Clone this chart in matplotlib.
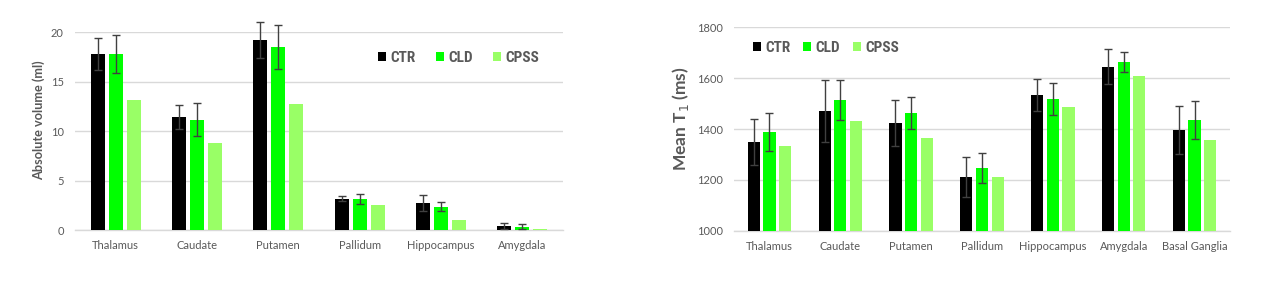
import matplotlib
matplotlib.use("Agg")
import matplotlib.pyplot as plt
import numpy as np
from matplotlib.patches import Patch
from matplotlib import font_manager

names = {f.name for f in font_manager.fontManager.ttflist}
condensed = [n for n in ['Roboto Condensed', 'Open Sans Condensed', 'Liberation Sans Narrow',
                         'Noto Sans Condensed', 'DejaVu Sans Condensed'] if n in names]
LEG_FAM = [condensed[0], 'DejaVu Sans'] if condensed else ['Lato', 'DejaVu Sans']
LEG_SIZE = 11 if condensed else 9.4
plt.rcParams['font.family'] = ['Lato', 'DejaVu Sans']

groups = ["CTR", "CLD", "CPSS"]
colors = ["#000000", "#00ff00", "#99ff66"]

# Left chart: absolute volume (ml)
vol_regions = ["Thalamus", "Caudate", "Putamen", "Pallidum", "Hippocampus", "Amygdala"]
vol_ctr = [17.8, 11.45, 19.2, 3.15, 2.75, 0.42]
vol_cld = [17.8, 11.15, 18.5, 3.15, 2.35, 0.32]
vol_cpss = [13.15, 8.8, 12.75, 2.55, 1.0, 0.07]
vol_ctr_err = [1.65, 1.2, 1.85, 0.25, 0.8, 0.27]
vol_cld_err = [1.95, 1.65, 2.2, 0.5, 0.47, 0.25]
vol_yticks = [0, 5, 10, 15, 20]

# Right chart: mean T1 (ms)
t1_regions = ["Thalamus", "Caudate", "Putamen", "Pallidum", "Hippocampus", "Amygdala", "Basal Ganglia"]
t1_ctr = [1350, 1472, 1424, 1211, 1534, 1645, 1397]
t1_cld = [1389, 1515, 1463, 1247, 1518, 1664, 1436]
t1_cpss = [1334, 1432, 1365, 1211, 1486, 1609, 1357]
t1_ctr_err = [90, 123, 92, 79, 63, 69, 95]
t1_cld_err = [76, 79, 64, 60, 62, 38, 75]
t1_yticks = [1000, 1200, 1400, 1600, 1800]

TXT = "#595959"
GRID = "#d9d9d9"

fig = plt.figure(figsize=(12.66, 2.86), dpi=100)
ax1 = fig.add_axes([0.05924, 0.19580, 0.38547, 0.69126])
ax2 = fig.add_axes([0.57978, 0.19336, 0.39179, 0.71049])


def draw(ax, regions, series, errs, yticks, ylim):
    x = np.arange(len(regions))
    w = 0.172
    step = 0.221
    for i, (vals, col) in enumerate(zip(series, colors)):
        pos = x + (i - 1) * step
        bottom = ylim[0]
        ax.bar(pos, np.array(vals) - bottom, bottom=bottom, width=w, color=col,
               zorder=3, label=groups[i])
        if errs[i] is not None:
            ax.errorbar(pos, vals, yerr=errs[i], fmt='none', ecolor="#404040",
                        elinewidth=1.0, capsize=3.0, capthick=1.0, zorder=4,
                        clip_on=False)
    ax.set_xlim(-0.5, len(regions) - 0.5)
    ax.set_ylim(*ylim)
    ax.set_yticks(yticks)
    ax.set_xticks(x)
    ax.set_xticklabels(regions)
    ax.yaxis.grid(True, color=GRID, linewidth=1.0, zorder=0)
    ax.set_axisbelow(True)
    for s in ["top", "right", "left"]:
        ax.spines[s].set_visible(False)
    ax.spines["bottom"].set_color(GRID)
    ax.spines["bottom"].set_linewidth(1.0)
    ax.tick_params(axis='both', length=0, colors=TXT, labelsize=8)
    ax.tick_params(axis='x', pad=7.5)
    ax.tick_params(axis='y', pad=8)


draw(ax1, vol_regions, [vol_ctr, vol_cld, vol_cpss],
     [vol_ctr_err, vol_cld_err, None], vol_yticks, (0, 20))
draw(ax2, t1_regions, [t1_ctr, t1_cld, t1_cpss],
     [t1_ctr_err, t1_cld_err, None], t1_yticks, (1000, 1800))

ax1.set_ylabel("Absolute volume (ml)", fontsize=9.2, fontweight='bold', color=TXT)
ax1.yaxis.set_label_coords(-0.0615, 0.556)
ax2.set_ylabel("Mean T$_1$ (ms)", fontsize=12.5, fontweight='bold', color=TXT)
ax2.yaxis.set_label_coords(-0.0873, 0.553)

handles = [Patch(facecolor=c, edgecolor='none') for c in colors]
fs_px = LEG_SIZE * 100 / 72.0
leg1 = ax1.legend(handles, groups, loc='upper left', bbox_to_anchor=(0.621, 0.905),
                  ncol=3, frameon=False, borderpad=0, borderaxespad=0,
                  handlelength=8.3 / fs_px, handleheight=8.3 / fs_px,
                  handletextpad=4.3 / fs_px, columnspacing=19.7 / fs_px,
                  prop={'family': LEG_FAM, 'weight': 'bold', 'size': LEG_SIZE})
for t in leg1.get_texts():
    t.set_color(TXT)
leg2 = ax2.legend(handles, groups, loc='upper left', bbox_to_anchor=(0.039, 0.935),
                  ncol=3, frameon=False, borderpad=0, borderaxespad=0,
                  handlelength=8.0 / fs_px, handleheight=8.3 / fs_px,
                  handletextpad=4.3 / fs_px, columnspacing=12.4 / fs_px,
                  prop={'family': LEG_FAM, 'weight': 'bold', 'size': LEG_SIZE})
for t in leg2.get_texts():
    t.set_color(TXT)

fig.savefig("out.png", dpi=100)
